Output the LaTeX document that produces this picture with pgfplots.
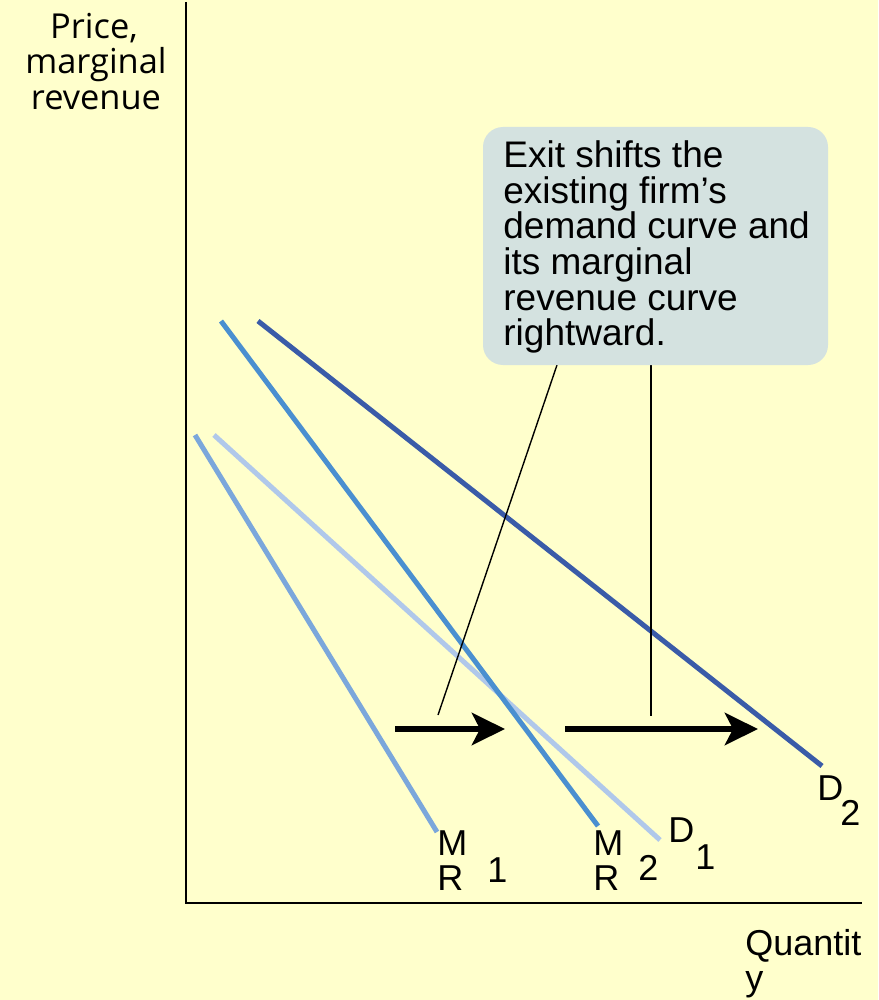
\documentclass[border=0pt]{standalone}
\usepackage{fontspec}
\setmainfont{Liberation Sans}
\newfontfamily\opensans{Open Sans}
\usepackage{pgfplots}
\pgfplotsset{compat=1.18}
\usetikzlibrary{arrows.meta}
\definecolor{bgyellow}{HTML}{FFFFCC}
\definecolor{dtwo}{HTML}{3A5BA8}
\definecolor{mrtwo}{HTML}{4A8FD0}
\definecolor{mrone}{HTML}{7BA7DB}
\definecolor{done}{HTML}{B0C8EA}
\definecolor{boxfill}{HTML}{D4E2E0}
\begin{document}
\begin{tikzpicture}
\begin{axis}[
  scale only axis, width=439pt, height=500pt,
  xmin=0, xmax=878, ymin=0, ymax=1000, y dir=reverse,
  hide axis, clip=false,
]
\fill[bgyellow] (axis cs:0,0) rectangle (axis cs:878,1000);
% axes
\draw[black, line width=1.1pt] (axis cs:186,2) -- (axis cs:186,903) -- (axis cs:862,903);
% curves
\addplot[mrone, line width=2.5pt] coordinates {(195,435) (437,832)};
\addplot[done, line width=2.5pt] coordinates {(214,435) (660,840)};
\addplot[mrtwo, line width=2.5pt] coordinates {(221,321) (598,826)};
\addplot[dtwo, line width=2.5pt] coordinates {(258,321) (822,766)};
% arrows
\addplot[black, line width=3.3pt, -{Stealth[length=16.5pt,width=16pt,inset=4pt]}] coordinates {(395,729) (505,729)};
\addplot[black, line width=3.3pt, -{Stealth[length=16.5pt,width=16pt,inset=4pt]}] coordinates {(565,729) (758,729)};
% callout lines
\addplot[black, line width=0.7pt] coordinates {(557,365) (438,715)};
\addplot[black, line width=0.7pt] coordinates {(651,365) (651,716)};
% callout box
\fill[boxfill, rounded corners=10pt] (axis cs:483,127) rectangle (axis cs:828,365);
\begin{scope}[every node/.style={anchor=base west, inner sep=0pt, font=\fontsize{18.5}{21}\selectfont}]
\node at (axis cs:503,168) {Exit shifts the};
\node at (axis cs:503,203.5) {existing firm’s};
\node at (axis cs:503,239) {demand curve and};
\node at (axis cs:503,274.5) {its marginal};
\node at (axis cs:503,310) {revenue curve};
\node at (axis cs:503,345.5) {rightward.};
\end{scope}
% y label
\begin{scope}[every node/.style={anchor=base, inner sep=0pt, font=\opensans\fontsize{17.2}{19}\selectfont}]
\node at (axis cs:94,39) {Price,};
\node at (axis cs:96,74) {marginal};
\node at (axis cs:96,110) {revenue};
\end{scope}
% curve labels and x label
\begin{scope}[every node/.style={anchor=base west, inner sep=0pt, font=\fontsize{18}{20}\selectfont}]
\node at (axis cs:437,855) {M};
\node at (axis cs:437,890) {R};
\node at (axis cs:487,882) {1};
\node at (axis cs:593,855) {M};
\node at (axis cs:593,890) {R};
\node at (axis cs:638,880) {2};
\node at (axis cs:668,842) {D};
\node at (axis cs:695,869) {1};
\node at (axis cs:817,800) {D};
\node at (axis cs:840,825) {2};
\node at (axis cs:745,955) {Quantit};
\node at (axis cs:745,990) {y};
\end{scope}
\end{axis}
\end{tikzpicture}
\end{document}
